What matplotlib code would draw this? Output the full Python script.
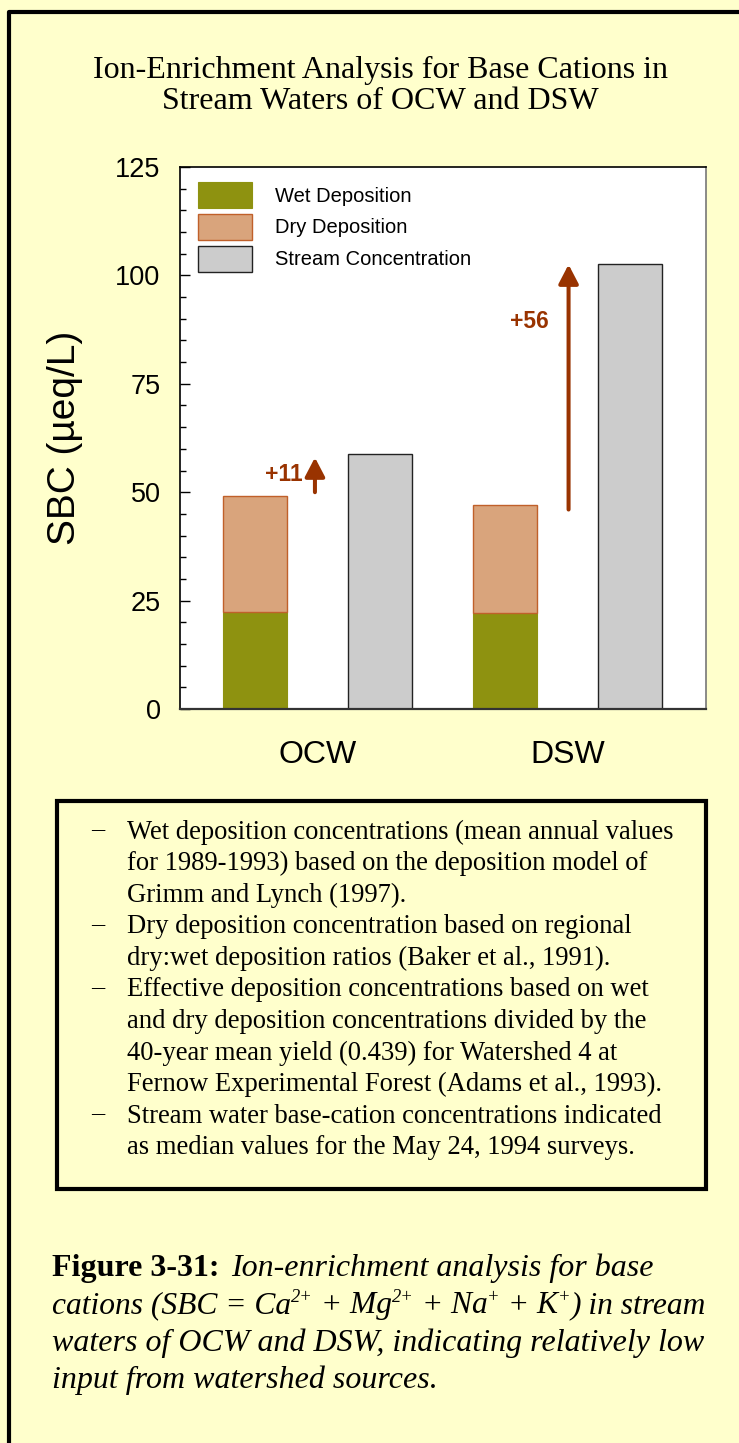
import numpy as np
import matplotlib.pyplot as plt
from matplotlib.patches import Rectangle
from matplotlib.lines import Line2D
from matplotlib.ticker import MultipleLocator

plt.rcParams['font.family'] = 'Liberation Sans'

# data (ueq/L)
sites = ['OCW', 'DSW']
wet_dep = [22.3, 22.1]
dry_dep = [26.8, 25.0]
stream_conc = [58.7, 102.6]
gain_labels = ['+11', '+56']
arrow_start = [50.0, 46.0]
arrow_end = [58.0, 102.5]

title = 'Ion-Enrichment Analysis for Base Cations in\nStream Waters of OCW and DSW'
notes = [
    ['Wet deposition concentrations (mean annual values',
     'for 1989-1993) based on the deposition model of',
     'Grimm and Lynch (1997).'],
    ['Dry deposition concentration based on regional',
     'dry:wet deposition ratios (Baker et al., 1991).'],
    ['Effective deposition concentrations based on wet',
     'and dry deposition concentrations divided by the',
     '40-year mean yield (0.439) for Watershed 4 at',
     'Fernow Experimental Forest (Adams et al., 1993).'],
    ['Stream water base-cation concentrations indicated',
     'as median values for the May 24, 1994 surveys.'],
]
caption_head = 'Figure 3-31:'
caption_first = 'Ion-enrichment analysis for base'
# (text, is_superscript) pieces of the second caption line
caption_ions = [('cations (SBC = Ca', False), ('2+', True), (' + Mg', False),
                ('2+', True), (' + Na', False), ('+', True), (' + K', False),
                ('+', True), (') in stream', False)]
caption_rest = ['waters of OCW and DSW, indicating relatively low',
                'input from watershed sources.']

BG = '#FFFFCC'
WET = '#8E9210'
DRY = '#D9A47C'
DRY_EDGE = '#C0602A'
STREAM = '#CCCCCC'
ARROW = '#993300'

W, H = 739, 1443
fig = plt.figure(figsize=(W / 100, H / 100), dpi=100, facecolor=BG)
renderer = fig.canvas.get_renderer()


def fx(px):
    return px / W


def fy(py):
    return 1 - py / H


# outer frame (left and top edges only)
fig.add_artist(Line2D([fx(9), fx(9), 1], [0, fy(12), fy(12)],
                      color='black', lw=3, transform=fig.transFigure))

fig.text(0.515, fy(86), title, ha='center', va='center', fontsize=23,
         family='Liberation Serif', linespacing=1.1)

ax = fig.add_axes([fx(180), fy(709), fx(706) - fx(180), fy(167) - fy(709)])
ax.set_facecolor('white')

x_dep = np.array([0, 2])
x_str = x_dep + 1
bw = 0.51
ax.bar(x_dep, wet_dep, bw, color=WET, edgecolor=WET, lw=0.8,
       label='Wet Deposition')
ax.bar(x_dep, dry_dep, bw, bottom=wet_dep, color=DRY, edgecolor=DRY_EDGE,
       lw=1.0, label='Dry Deposition')
ax.bar(x_str, stream_conc, bw, color=STREAM, edgecolor='#222222', lw=1.0,
       label='Stream Concentration')

arrow_x = [0.48, 2.51]
for xa, y0, y1 in zip(arrow_x, arrow_start, arrow_end):
    ax.annotate('', xy=(xa, y1), xytext=(xa, y0),
                arrowprops=dict(arrowstyle='-|>,head_length=11.5,head_width=6',
                                mutation_scale=1, lw=2.9, color=ARROW,
                                shrinkA=0, shrinkB=0))
ax.text(0.38, 54.0, gain_labels[0], ha='right', va='center', fontsize=16.5,
        weight='bold', color=ARROW)
ax.text(2.2, 89.3, gain_labels[1], ha='center', va='center', fontsize=16.5,
        weight='bold', color=ARROW)

ax.set_xlim(-0.6, 3.61)
ax.set_ylim(0, 125)
ax.yaxis.set_major_locator(MultipleLocator(25))
ax.yaxis.set_minor_locator(MultipleLocator(5))
ax.tick_params(axis='y', which='major', direction='in', length=7.2,
               width=1, labelsize=19.5, pad=14)
ax.tick_params(axis='y', which='minor', direction='in', length=4.3, width=1)
ax.set_xticks([0.5, 2.5])
ax.set_xticklabels(sites)
ax.tick_params(axis='x', length=0, labelsize=23, pad=22)
for side in ['left', 'top']:
    ax.spines[side].set_color('black')
ax.spines['right'].set_color('#777777')
ax.spines['bottom'].set_color('#333333')
ax.spines['bottom'].set_linewidth(1.6)
for side in ['left', 'top', 'right']:
    ax.spines[side].set_linewidth(1.2)
ax.set_ylabel('SBC (µeq/L)', fontsize=28, labelpad=23)

ax.legend(loc='upper left', bbox_to_anchor=(18 / 526, 1 - 15 / 542),
          frameon=False, fontsize=14.5, handlelength=2.7, handleheight=1.6,
          labelspacing=0.3, handletextpad=1.1, borderpad=0,
          borderaxespad=0)

# notes box
fig.add_artist(Rectangle((fx(57), fy(1189)), fx(706) - fx(57),
                         fy(801) - fy(1189), transform=fig.transFigure,
                         fill=False, ec='black', lw=3))
line_y = 832
for item in notes:
    fig.text(fx(91), fy(line_y - 3), '\u2013', ha='left', va='center',
             fontsize=19, family='Liberation Serif')
    for line in item:
        fig.text(fx(127), fy(line_y), line, ha='left', va='center',
                 fontsize=19.2, family='Liberation Serif')
        line_y += 31.6

# caption
cap_fs = 23
cap_x = 52
cap_base = 1276
cap_step = 37.3
serif = dict(family='Liberation Serif', va='baseline', ha='left')
head = fig.text(fx(cap_x), fy(cap_base), caption_head, fontsize=cap_fs,
                weight='bold', **serif)
head_end = head.get_window_extent(renderer).x1
fig.text(fx(max(230, head_end + 12)), fy(cap_base), caption_first,
         fontsize=cap_fs, style='italic', **serif)

# second line built piece by piece so the ion charges sit as superscripts
x_cur = cap_x
y_base = cap_base + cap_step
for piece, sup in caption_ions:
    if sup:
        t = fig.text(fx(x_cur), fy(y_base - 11), piece,
                     fontsize=cap_fs * 0.58, style='italic', **serif)
    else:
        t = fig.text(fx(x_cur), fy(y_base), piece, fontsize=cap_fs * 0.985,
                     style='italic', **serif)
    x_cur = t.get_window_extent(renderer).x1

for i, line in enumerate(caption_rest):
    fig.text(fx(cap_x), fy(cap_base + cap_step * (i + 2)), line,
             fontsize=cap_fs, style='italic', **serif)

fig.savefig('out.png', dpi=100, facecolor=BG)
